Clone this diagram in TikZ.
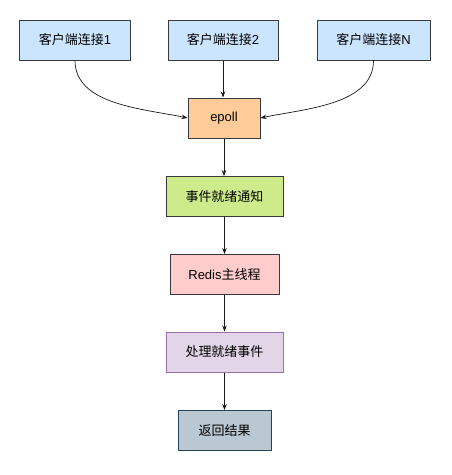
\documentclass[tikz,border=0pt]{standalone}
\usepackage{fontspec}
\setmainfont{Liberation Sans}
\newfontfamily\cjk{Noto Sans CJK SC}
\usetikzlibrary{arrows.meta}
\definecolor{clientfill}{HTML}{CCE5FF}
\definecolor{epollfill}{HTML}{FFCC99}
\definecolor{notifyfill}{HTML}{CDEB8B}
\definecolor{redisfill}{HTML}{FFCCCC}
\definecolor{handlefill}{HTML}{E1D5E7}
\definecolor{handleline}{HTML}{9673A6}
\definecolor{resultfill}{HTML}{BAC8D3}
\definecolor{resultline}{HTML}{23445D}
\definecolor{boxline}{HTML}{36393D}
\definecolor{edgeline}{HTML}{1A1A1A}
\begin{document}
\begin{tikzpicture}[x=1pt,y=-1pt,
    box/.style={draw=boxline, line width=1pt, minimum height=40pt, inner sep=0pt, font=\fontsize{13}{15}\selectfont},
    flow/.style={draw=edgeline, line width=0.7pt, -{Stealth[length=6pt,width=4.5pt]}}]
  \useasboundingbox (0,0) rectangle (451,475);

  \node[box, fill=clientfill, minimum width=111pt] (C1) at (75,40) {{\cjk 客户端连接}1};
  \node[box, fill=clientfill, minimum width=110pt] (C2) at (223,40) {{\cjk 客户端连接}2};
  \node[box, fill=clientfill, minimum width=113pt] (CN) at (373.5,40) {{\cjk 客户端连接}N};

  \node[box, fill=epollfill, minimum width=72pt] (epoll) at (224,118) {epoll};
  \node[box, fill=notifyfill, minimum width=117pt] (notify) at (224.5,196.5) {\cjk 事件就绪通知};
  \node[box, fill=redisfill, minimum width=109pt] (redis) at (224.5,274.5) {Redis{\cjk 主线程}};
  \node[box, fill=handlefill, draw=handleline, minimum width=117pt] (handle) at (224.5,352) {\cjk 处理就绪事件};
  \node[box, fill=resultfill, draw=resultline, minimum width=93pt] (result) at (224.5,430.5) {\cjk 返回结果};

  \draw[flow] (C1.south) to[out=-90, in=168, looseness=0.9] (epoll.west);
  \draw[flow] (C2.south) -- (C2.south |- epoll.north);
  \draw[flow] (CN.south) to[out=-90, in=12, looseness=0.9] (epoll.east);

  \draw[flow] (epoll) -- (epoll |- notify.north);
  \draw[flow] (notify) -- (redis);
  \draw[flow] (redis) -- (handle);
  \draw[flow] (handle) -- (result);
\end{tikzpicture}
\end{document}
